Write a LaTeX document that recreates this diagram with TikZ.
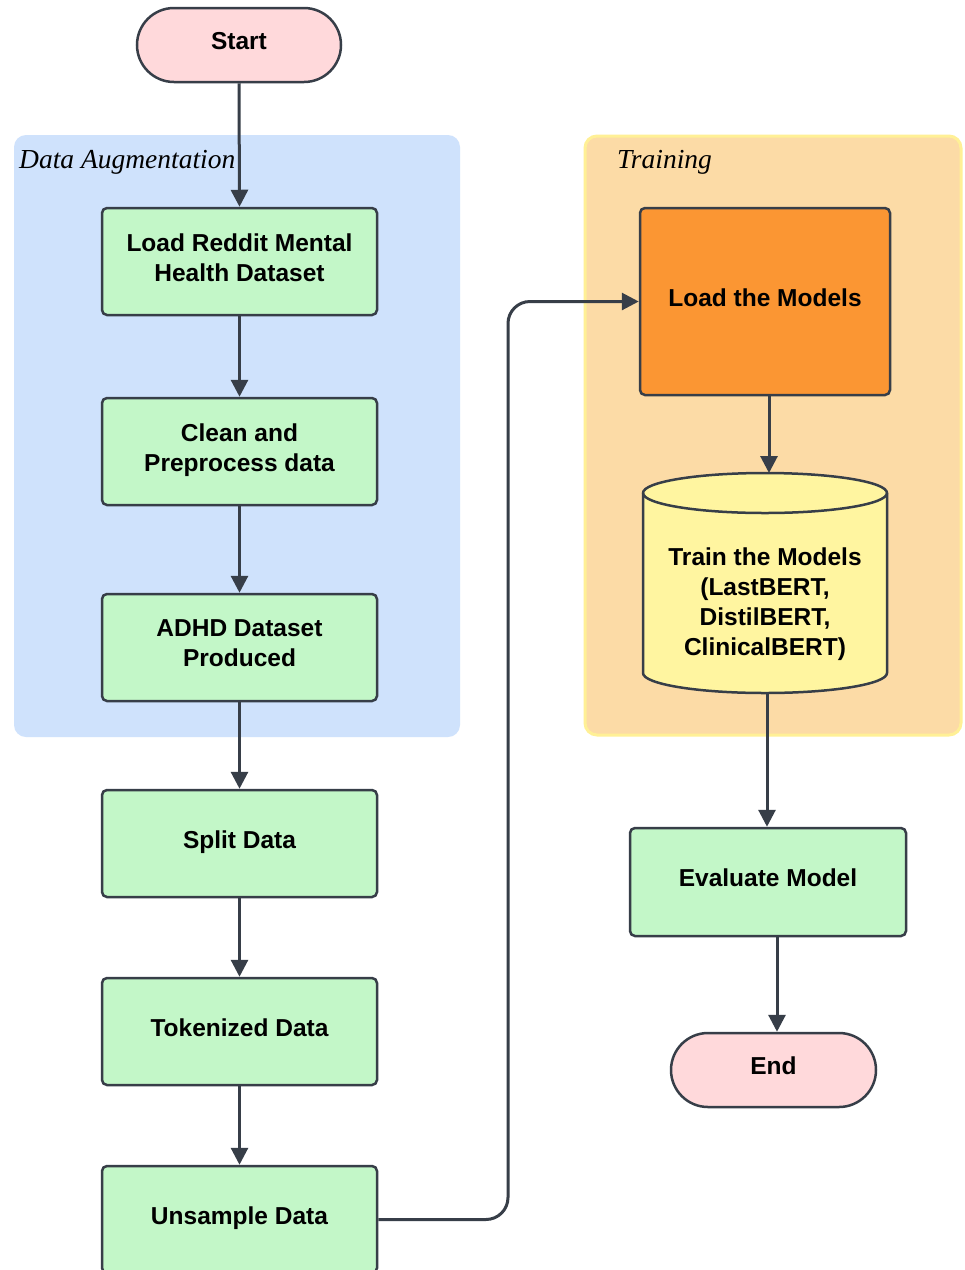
\documentclass[tikz,border=0pt]{standalone}
\usepackage{fontspec}
\setmainfont{Liberation Sans}
\newfontfamily\grpfont{Liberation Serif}
\usetikzlibrary{arrows.meta,calc}
\definecolor{lineC}{HTML}{373E48}
\definecolor{blueG}{HTML}{CFE2FC}
\definecolor{peachG}{HTML}{FCDBA6}
\definecolor{yellowB}{HTML}{FFF096}
\definecolor{greenF}{HTML}{C3F7C8}
\definecolor{orangeF}{HTML}{FB9633}
\definecolor{cylF}{HTML}{FFF5A0}
\definecolor{pinkF}{HTML}{FFD9DB}
\tikzset{
  txt/.style={font=\bfseries\fontsize{24.5}{30}\selectfont, text=black, align=center, text depth=8pt},
  procbox/.style={txt, draw=lineC, line width=2.5pt, fill=greenF, rounded corners=5pt,
    minimum width=275pt, minimum height=107pt, inner sep=0pt},
  pill/.style={txt, draw=lineC, line width=2.5pt, fill=pinkF, rounded corners=37pt,
    minimum height=74pt, inner sep=0pt},
  arr/.style={draw=lineC, line width=3pt, -{Triangle[width=17pt,length=17pt]}},
  grplabel/.style={font=\grpfont\itshape\fontsize{27.5}{30}\selectfont, anchor=base west, inner sep=0pt}
}
\begin{document}
\begin{tikzpicture}[x=1pt,y=-1pt]
\clip (0,0) rectangle (965,1270);
\fill[white] (0,0) rectangle (965,1270);
% groups
\fill[blueG, rounded corners=12pt] (14,135) rectangle (460,737);
\draw[yellowB, line width=3pt, fill=peachG, rounded corners=12pt] (585,136) rectangle (961,735);
\node[grplabel] (glab1) at (19,168) {Data Augmentation};
\node[grplabel] (glab2) at (617,168) {Training};
% nodes
\node[pill, minimum width=204pt] (start) at (239,45) {Start};
\node[procbox] (b1) at (239.5,261.5) {Load Reddit Mental\\Health Dataset};
\node[procbox] (b2) at (239.5,451.5) {Clean and\\Preprocess data};
\node[procbox] (b3) at (239.5,647.5) {ADHD Dataset\\Produced};
\node[procbox] (b4) at (239.5,843.5) {Split Data};
\node[procbox] (b5) at (239.5,1031.5) {Tokenized Data};
\node[procbox] (b6) at (239.5,1219.5) {Unsample Data};
\node[procbox, fill=orangeF, minimum width=250pt, minimum height=187pt] (load) at (765,301.5) {Load the Models};
% cylinder
\draw[lineC, line width=2.5pt, fill=cylF]
  (643,493) -- (643,673) arc[start angle=180, end angle=0, x radius=122, y radius=20]
  -- (887,493) arc[start angle=0, end angle=-180, x radius=122, y radius=20] -- cycle;
\draw[lineC, line width=2.5pt] (643,493) arc[start angle=180, end angle=0, x radius=122, y radius=20];
\coordinate (cyltop) at (769,473);
\coordinate (cylbot) at (767,693);
\node[txt] (train) at (765,606) {Train the Models\\(LastBERT,\\DistilBERT,\\ClinicalBERT)};
\node[procbox, minimum width=276pt, minimum height=108pt] (eval) at (768,882) {Evaluate Model};
\node[pill, minimum width=205pt] (end) at (773.5,1070) {End};
% connectors
\draw[arr] (start.south) -- (b1.north);
\draw[arr] (b1) -- (b2);
\draw[arr] (b2) -- (b3);
\draw[arr] (b3) -- (b4);
\draw[arr] (b4) -- (b5);
\draw[arr] (b5) -- (b6);
\coordinate (bend) at (508,0);
\draw[arr, rounded corners=22pt] (b6.east) -- (b6.east -| bend) -- (bend |- load.west) -- (load.west);
\draw[arr] (load.south -| cyltop) -- (cyltop);
\draw[arr] (cylbot) -- ([xshift=-1pt]eval.north);
\draw[arr] ([xshift=9pt]eval.south) -- ([xshift=3.5pt]end.north);
\end{tikzpicture}
\end{document}
